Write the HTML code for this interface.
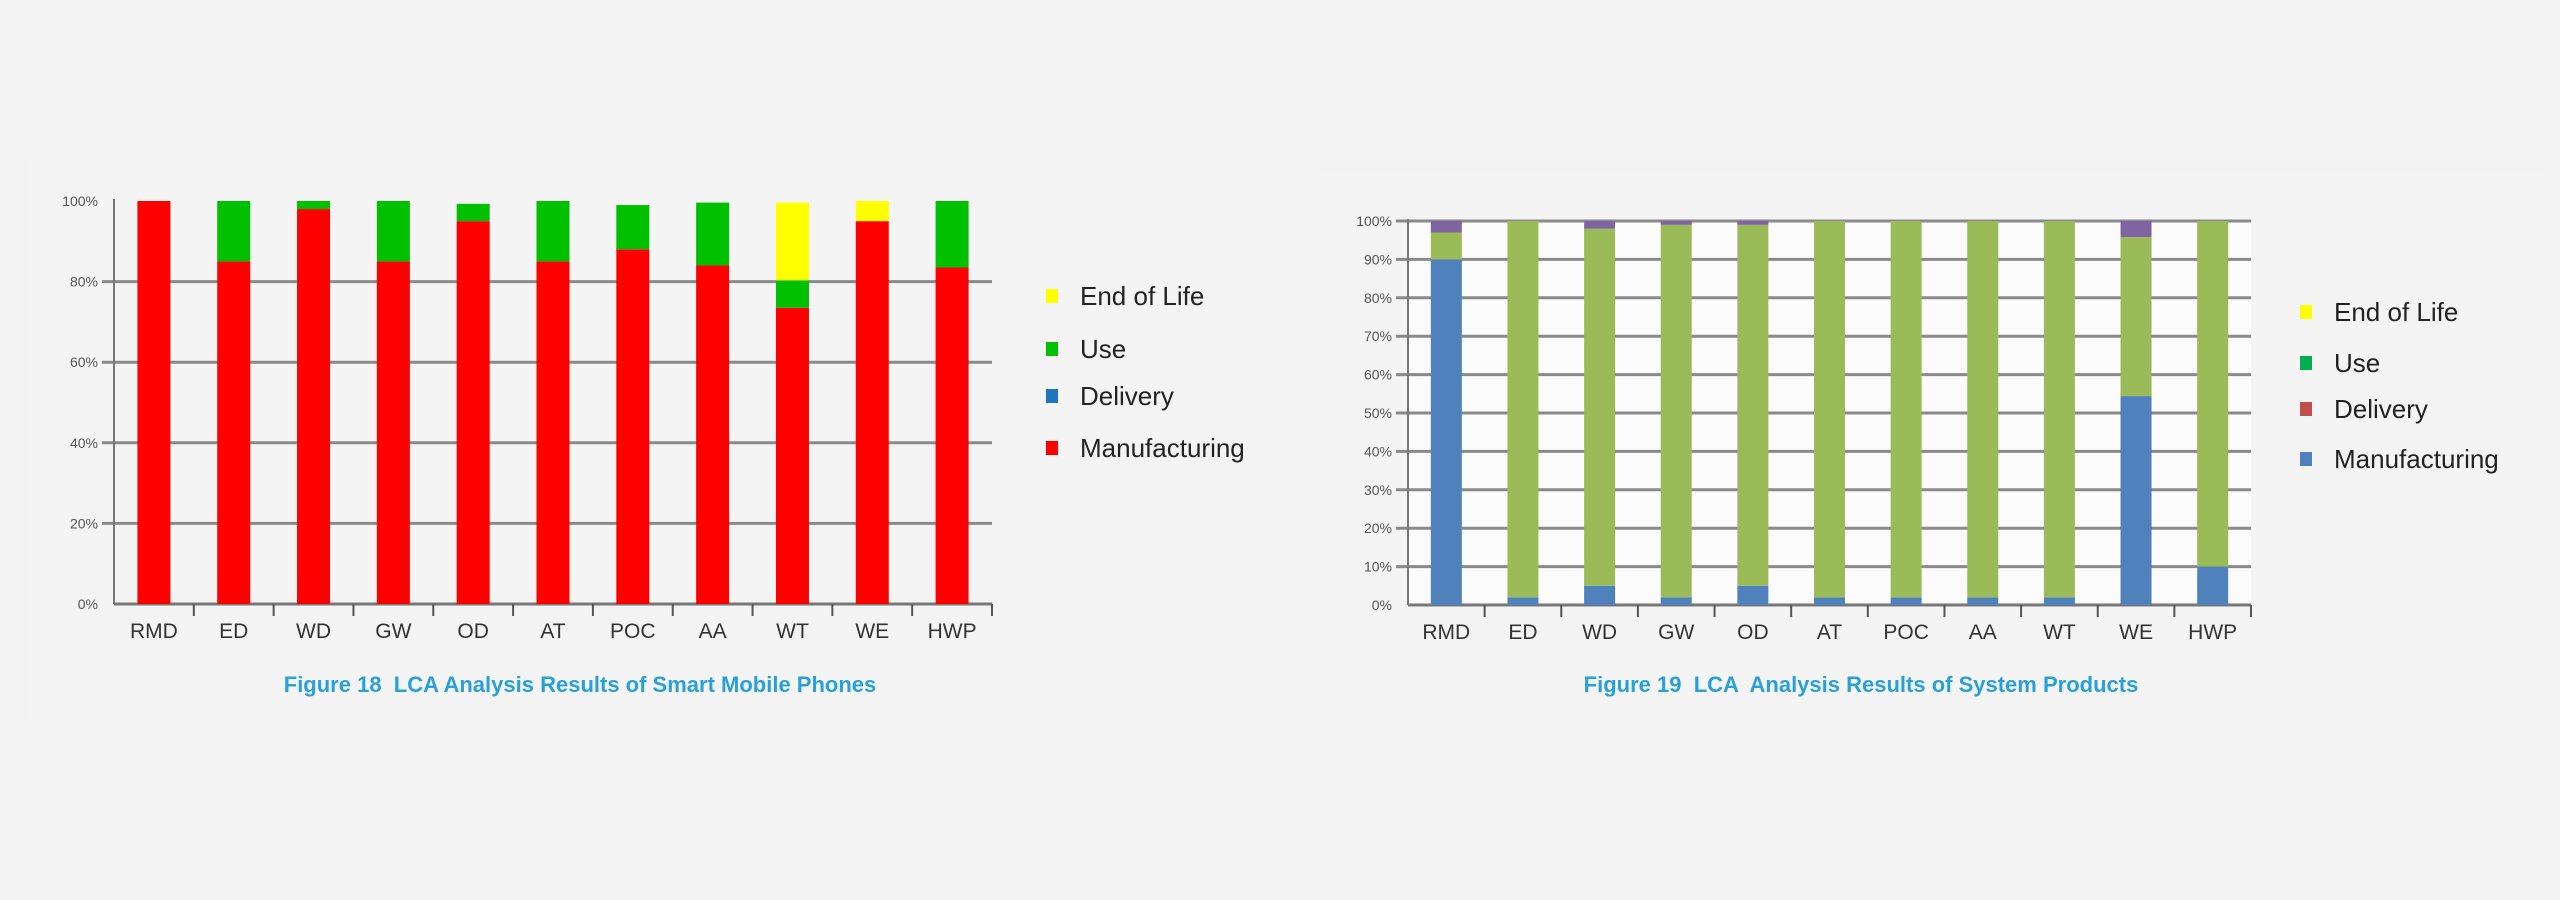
<!DOCTYPE html>
<html><head><meta charset="utf-8"><style>
body{margin:0;background:#f3f3f3;}
svg{display:block;font-family:"Liberation Sans",sans-serif;}
</style></head><body>
<svg width="2560" height="900" viewBox="0 0 2560 900" xmlns="http://www.w3.org/2000/svg">
<rect width="2560" height="900" fill="#f3f3f3"/>
<rect x="30" y="160" width="1250" height="560" fill="#f4f4f4"/>
<rect x="1320" y="170" width="1230" height="550" fill="#f4f4f4"/>
<rect x="1408" y="221" width="843" height="385" fill="#fbfbfb"/>
<g id="c1"></g><g id="c2"></g>
</svg>
<script>
const NS="http://www.w3.org/2000/svg";
function mk(p,t,a,txt){const e=document.createElementNS(NS,t);for(const k in a)e.setAttribute(k,a[k]);if(txt!==undefined)e.textContent=txt;p.appendChild(e);return e;}
const categories=["RMD","ED","WD","GW","OD","AT","POC","AA","WT","WE","HWP"];
// Figure 18
const phoneManufacturing=[100,85,98,85,95,85,88,84,73.5,95,83.5];
const phoneDelivery=[0,0,0,0,0,0,0,0,0,0,0];
const phoneUse=[0,15,2,15,4.3,15,11,15.6,6.8,0,16.5];
const phoneEndOfLife=[0,0,0,0,0,0,0,0,19.3,5,0];
const phoneTicks=[0,20,40,60,80,100];
// Figure 19
const sysManufacturing=[90,2,5,2,5,2,2,2,2,54.4,10];
const sysDelivery=[0,0,0,0,0,0,0,0,0,0,0];
const sysUse=[7,98,93,97,94,98,98,98,98,41.4,90];
const sysOther=[3,0,2,1,1,0,0,0,0,4.2,0];
const sysTicks=[0,10,20,30,40,50,60,70,80,90,100];

function chart(g,cfg){
  const y=v=>cfg.y0-(cfg.y0-cfg.y1)*v/100;
  const n=categories.length,step=(cfg.xr-cfg.xl)/n;
  const x=i=>cfg.xl+step*(i+0.5);
  cfg.ticks.forEach(t=>{
    if(t>0&&(t<100||cfg.top)){const l=mk(g,"line",{x1:cfg.xl-12,x2:cfg.xr,y1:y(t),y2:y(t),stroke:"#8a8a8a","stroke-width":3});
    
    }
    const tx=mk(g,"text",{x:cfg.xl-16,y:y(t)+5,"text-anchor":"end","font-size":14,fill:"#555"},t+"%");
    
    
  });
  const ax=mk(g,"line",{x1:cfg.xl,x2:cfg.xl,y1:cfg.y1-2,y2:cfg.y0,stroke:"#777","stroke-width":2});
  
  
  const bx=mk(g,"line",{x1:cfg.xl,x2:cfg.xr,y1:cfg.y0,y2:cfg.y0,stroke:"#777","stroke-width":3});
  
  
  categories.forEach((c,i)=>{
    const tk=mk(g,"line",{x1:cfg.xl+step*(i+1),x2:cfg.xl+step*(i+1),y1:cfg.y0,y2:cfg.y0+12,stroke:"#555","stroke-width":2});
    
    
    let base=0;
    cfg.series.forEach(s=>{
      const v=s.vals[i];if(v<=0)return;
      const r=mk(g,"rect",{x:x(i)-cfg.bw/2,y:y(base+v),width:cfg.bw,height:y(base)-y(base+v),fill:s.color});
      
      
      base+=v;
    });
    const lb=mk(g,"text",{x:x(i),y:cfg.y0+34,"text-anchor":"middle","font-size":21,fill:"#333"},c);
    
    
  });
  cfg.legend.forEach((L,k)=>{
    const sq=mk(g,"rect",{x:cfg.lx,y:cfg.ly[k]-16,width:12,height:14,fill:L[1]});
    
    
    const t=mk(g,"text",{x:cfg.lx+34,y:cfg.ly[k],"font-size":26,fill:"#222"},L[0]);
    
    
  });
  const cap=mk(g,"text",{x:cfg.cx,y:692,"text-anchor":"middle","font-size":22,"font-weight":"bold",fill:"#2aa0d8",style:"white-space:pre"},cfg.caption);
  
  
}
chart(document.getElementById("c1"),{xl:114,xr:992,y0:604,y1:201,bw:33,ticks:phoneTicks,top:false,
  series:[{name:"manufacturing",vals:phoneManufacturing,color:"#ff0000"},{name:"delivery",vals:phoneDelivery,color:"#1f77c0"},{name:"use",vals:phoneUse,color:"#00c000"},{name:"end-of-life",vals:phoneEndOfLife,color:"#ffff00"}],
  legend:[["End of Life","#ffff00"],["Use","#00c000"],["Delivery","#1f77c0"],["Manufacturing","#ff0000"]],
  lx:1046,ly:[305,358,405,457],cx:580,caption:"Figure 18  LCA Analysis Results of Smart Mobile Phones"});
chart(document.getElementById("c2"),{xl:1408,xr:2251,y0:605,y1:221,bw:31,ticks:sysTicks,top:true,
  series:[{name:"manufacturing",vals:sysManufacturing,color:"#4f81bd"},{name:"delivery",vals:sysDelivery,color:"#c0504d"},{name:"use",vals:sysUse,color:"#9bbb59"},{name:"other",vals:sysOther,color:"#8064a2"}],
  legend:[["End of Life","#ffff00"],["Use","#00b050"],["Delivery","#c0504d"],["Manufacturing","#4f81bd"]],
  lx:2300,ly:[321,372,418,468],cx:1861,caption:"Figure 19  LCA  Analysis Results of System Products"});
</script>
</body></html>
